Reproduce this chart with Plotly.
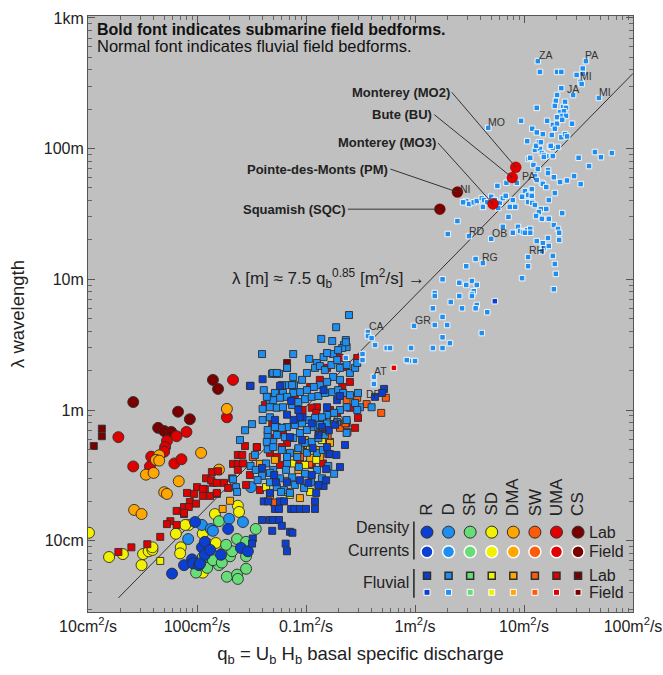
import math
import plotly.graph_objects as go

FONT = "Liberation Sans, Arial, Helvetica, sans-serif"

# ---------------- classes / colours ----------------
classes = ["R", "D", "SR", "SD", "DMA", "SW", "UMA", "CS"]
class_colors = ["#0b3fd1", "#1e8ef0", "#66dd77", "#f2f200", "#ffa600", "#ff5a0a", "#e00000", "#7a0000"]
COL = dict(zip(classes, class_colors))

# ---------------- density currents, lab (circles) ----------------
dcl_R_q = [0.0059, 0.0096, 0.0076, 0.0090, 0.0092, 0.0104, 0.0111, 0.0118, 0.0193, 0.0166, 0.0253, 0.0293, 0.0107, 0.0118, 0.0132]
dcl_R_lam = [0.056, 0.139, 0.065, 0.072, 0.067, 0.065, 0.089, 0.098, 0.123, 0.078, 0.088, 0.083, 0.067, 0.078, 0.085]
dcl_D_q = [0.0083, 0.0111, 0.0134, 0.0140, 0.0197, 0.0313, 0.0264]
dcl_D_lam = [0.103, 0.132, 0.123, 0.119, 0.147, 0.257, 0.139]
dcl_SR_q = [0.0159, 0.0116, 0.0124, 0.0098, 0.0143, 0.0159, 0.0188, 0.0201, 0.0233, 0.0346, 0.0282, 0.0210, 0.0140, 0.0282,
            0.0233, 0.0237, 0.0282, 0.0113, 0.0140, 0.0185, 0.0169]
dcl_SR_lam = [0.141, 0.074, 0.062, 0.057, 0.072, 0.065, 0.053, 0.076, 0.103, 0.123, 0.098, 0.083, 0.078, 0.076,
              0.055, 0.051, 0.061, 0.075, 0.071, 0.093, 0.068]
dcl_SD_q = [0.00102, 0.00156, 0.00209, 0.0032, 0.0036, 0.0039, 0.0039, 0.0031, 0.0064, 0.0071, 0.0070, 0.0084, 0.0078,
            0.0113, 0.0124, 0.0149, 0.0146, 0.0172, 0.0237, 0.0243, 0.0181, 0.0113]
dcl_SD_lam = [0.115, 0.075, 0.079, 0.079, 0.083, 0.085, 0.089, 0.065, 0.113, 0.089, 0.080, 0.132, 0.132,
              0.113, 0.095, 0.096, 0.16, 0.080, 0.185, 0.166, 0.082, 0.057]
dcl_DMA_q = [0.0188, 0.0045, 0.0042, 0.0045, 0.0034, 0.0040, 0.0109, 0.0159, 0.0068, 0.0050, 0.0053, 0.00265, 0.0031]
dcl_DMA_lam = [1.02, 0.45, 0.415, 0.41, 0.32, 0.33, 0.47, 0.35, 0.285, 0.235, 0.228, 0.172, 0.16]
dcl_UMA_q = [0.0214, 0.0188, 0.0019, 0.0065, 0.0080, 0.0053, 0.0051, 0.0050, 0.0038, 0.0026, 0.0037, 0.0062, 0.0072]
dcl_UMA_lam = [1.70, 0.88, 0.62, 0.63, 0.68, 0.58, 0.52, 0.48, 0.44, 0.37, 0.37, 0.39, 0.42]
dcl_CS_q = [0.0026, 0.0067, 0.0086, 0.0044, 0.0050, 0.0058, 0.0140, 0.0156]
dcl_CS_lam = [1.15, 0.97, 0.85, 0.73, 0.69, 0.68, 1.70, 1.45]

# ---------------- density currents, submarine field ----------------
sub_names = ["Monterey (MO2)", "Bute (BU)", "Monterey (MO3)", "Pointe-des-Monts (PM)", "Squamish (SQC)"]
sub_q = [8.4, 7.8, 5.2, 2.45, 1.69]
sub_lam = [72, 60, 37.7, 46.5, 34.4]
sub_class = ["UMA", "UMA", "UMA", "CS", "CS"]

# ---------------- fluvial, lab (squares) ----------------
fll_CS_q = [0.00134, 0.00134, 0.00113, 0.067, 0.067]
fll_CS_lam = [0.72, 0.63, 0.53, 2.29, 2.10]
fll_UMA_q = [0.0035, 0.0025, 0.0019, 0.0046, 0.0100, 0.0118, 0.0140, 0.0081, 0.0094, 0.0113, 0.0132, 0.0152,
             0.0086, 0.0076, 0.0084, 0.0065, 0.0076, 0.0057, 0.0053, 0.0065, 0.0276, 0.0353, 0.0237, 0.026,
             0.0214, 0.0237, 0.0137, 0.0156, 0.0121, 0.0135, 0.0152, 0.0177, 0.0113, 0.0152, 0.0098, 0.0076,
             0.205, 0.295, 0.156, 0.253, 0.215, 0.109, 0.126, 0.253, 0.30, 0.166, 0.193, 0.143, 0.113, 0.093,
             0.124, 0.049, 0.054, 0.0615, 0.050, 0.067, 0.085, 0.102, 0.060, 0.0355, 0.0467, 0.054, 0.236, 0.166,
             0.282, 0.0265, 0.0306, 0.0237, 0.0282, 0.0378, 0.0210, 0.0193, 0.0577, 0.088, 0.113, 0.143, 0.042,
             0.079, 0.134, 0.228]
fll_UMA_lam = [0.094, 0.089, 0.082, 0.107, 0.257, 0.249, 0.277, 0.232, 0.228, 0.22, 0.22, 0.228,
               0.198, 0.181, 0.181, 0.169, 0.16, 0.141, 0.134, 0.132, 0.53, 0.52, 0.453, 0.453,
               0.387, 0.387, 0.335, 0.34, 0.30, 0.29, 0.277, 0.277, 0.249, 0.232, 0.192, 0.163,
               2.50, 2.50, 2.10, 1.64, 1.50, 1.50, 1.05, 1.04, 0.87, 1.0, 0.95, 0.87, 1.04, 1.0,
               0.95, 0.80, 0.74, 0.68, 0.61, 0.56, 0.494, 0.494, 0.52, 0.52, 0.47, 0.437, 0.79, 0.57,
               0.73, 0.39, 0.318, 0.348, 0.267, 0.244, 0.30, 0.253, 0.38, 0.40, 0.38, 0.39, 1.09,
               1.30, 1.70, 2.13]
fll_SW_q = [0.0325, 0.051, 0.107, 0.236, 0.36, 0.54, 0.295, 0.205, 0.23, 0.158, 0.134, 0.24, 0.088, 0.49]
fll_SW_lam = [0.437, 0.196, 0.387, 1.19, 1.11, 1.24, 1.24, 0.73, 0.79, 0.62, 0.70, 0.68, 0.437, 0.95]
fll_DMA_q = [0.0172, 0.0201, 0.0669, 0.0378, 0.098, 0.104, 0.126, 0.083, 0.134, 0.166, 0.0519, 0.085, 0.109, 0.0467, 0.088]
fll_DMA_lam = [0.175, 0.202, 0.287, 0.387, 0.589, 0.54, 0.494, 0.453, 0.437, 0.56, 0.415, 0.348, 0.43, 0.224, 0.212]
fll_SD_q = [0.0046, 0.0669, 0.14, 0.109, 0.067, 0.075, 0.098, 0.124, 0.043, 0.071, 0.109]
fll_SD_lam = [0.070, 0.236, 0.589, 0.52, 0.415, 0.39, 0.38, 0.415, 0.257, 0.224, 0.236]
fll_R_q = [0.053, 0.0467, 0.041, 0.045, 0.0577, 0.0628, 0.0519, 0.0565, 0.073, 0.078, 0.088, 0.100, 0.121, 0.124,
           0.121, 0.145, 0.153, 0.16, 0.105, 0.0395, 0.0467, 0.050, 0.0565, 0.060, 0.049, 0.0713, 0.075, 0.0325,
           0.032, 0.065, 0.0669,
           0.031, 0.040, 0.073, 0.085, 0.093, 0.156, 0.193, 0.205, 0.43, 0.52, 0.50, 0.145, 0.088, 0.077, 0.113,
           0.14, 0.162, 0.185, 0.0713, 0.092, 0.115, 0.156, 0.166, 0.13, 0.052, 0.067, 0.0395, 0.051, 0.0669,
           0.088, 0.113, 0.13, 0.153, 0.205, 0.19, 0.228, 0.0577]
fll_R_lam = [0.28, 0.232, 0.20, 0.20, 0.20, 0.20, 0.175, 0.175, 0.175, 0.175, 0.175, 0.175, 0.175, 0.232,
             0.20, 0.262, 0.353, 0.46, 0.277, 0.144, 0.144, 0.144, 0.144, 0.13, 0.119, 0.117, 0.115, 0.104,
             0.095, 0.095, 0.083,
             1.53, 1.72, 1.17, 1.0, 0.88, 1.05, 1.19, 1.28, 1.26, 1.45, 1.35, 1.42, 0.88, 0.84, 0.79,
             0.74, 0.70, 0.77, 0.62, 0.589, 0.51, 0.52, 0.46, 0.644, 0.84, 0.92, 0.36, 0.318, 0.28,
             0.29, 0.318, 0.267, 0.29, 0.366, 0.453, 0.54, 1.53]
fll_D_q = [0.248, 0.189, 0.138, 0.174, 0.232, 0.223, 0.236, 0.215, 0.0395, 0.0763,
           0.107, 0.126, 0.145, 0.177, 0.0487, 0.053, 0.0565, 0.0696, 0.0776, 0.0519,
           0.0615, 0.0445, 0.040, 0.0467, 0.032, 0.0445, 0.050, 0.0445, 0.067, 0.156,
           0.197, 0.232, 0.050, 0.054, 0.067, 0.041, 0.0306, 0.060, 0.0746, 0.0763,
           0.092, 0.102, 0.121, 0.134, 0.149, 0.171, 0.193, 0.205, 0.236, 0.253,
           0.282, 0.295, 0.177, 0.205, 0.156, 0.134, 0.118, 0.102, 0.088, 0.0763,
           0.067, 0.0577, 0.050, 0.0437, 0.0467, 0.054, 0.0615, 0.0746, 0.085, 0.098,
           0.113, 0.13, 0.149, 0.174, 0.197, 0.219, 0.253, 0.30, 0.313, 0.282,
           0.40, 0.236, 0.205, 0.181, 0.156, 0.14, 0.121, 0.104, 0.092, 0.079,
           0.0669, 0.060, 0.0519, 0.0467, 0.040, 0.0445, 0.054, 0.0641, 0.0763, 0.088,
           0.102, 0.118, 0.134, 0.156, 0.193, 0.236, 0.295, 0.0437, 0.050, 0.060,
           0.0713, 0.085, 0.098, 0.113, 0.13, 0.149, 0.067, 0.083, 0.102, 0.126,
           0.143, 0.236, 0.031, 0.0346, 0.0395, 0.043, 0.050, 0.0577, 0.0655, 0.0746,
           0.086, 0.098, 0.111, 0.126, 0.14, 0.16, 0.181, 0.054, 0.0628, 0.079,
           0.096, 0.0467, 0.036, 0.0214, 0.0228, 0.0233, 0.0467, 0.059, 0.0713, 0.0276,
           0.0248, 0.034]
fll_D_lam = [5.33, 4.30, 3.50, 3.37, 3.43, 3.14, 3.03, 2.98, 2.68, 2.68,
             2.46, 2.29, 2.54, 2.68, 1.89, 1.89, 1.89, 1.55, 1.55, 1.35,
             1.35, 1.26, 1.02, 1.13, 0.78, 0.644, 0.57, 0.50, 0.39, 2.73,
             2.88, 3.30, 1.92, 1.92, 2.10, 1.42, 1.53, 1.55, 1.55, 1.79,
             1.70, 1.92, 2.10, 2.17, 2.02, 2.21, 2.41, 2.10, 2.21, 1.92,
             2.10, 2.29, 1.79, 1.70, 1.64, 1.55, 1.50, 1.42, 1.37, 1.35,
             1.26, 1.24, 1.19, 1.26, 1.05, 1.04, 1.05, 1.09, 1.15, 1.21,
             1.26, 1.28, 1.35, 1.37, 1.42, 1.35, 1.30, 1.35, 1.05, 1.13,
             1.05, 1.05, 1.0, 0.95, 0.916, 0.88, 0.87, 0.838, 0.79, 0.768,
             0.74, 0.73, 0.74, 0.88, 0.838, 0.703, 0.644, 0.62, 0.61, 0.667,
             0.703, 0.74, 0.768, 0.79, 0.81, 0.838, 1.0, 0.57, 0.52, 0.494,
             0.47, 0.51, 0.56, 0.57, 0.61, 0.644, 0.437, 0.437, 0.47, 0.47,
             0.494, 0.667, 0.373, 0.348, 0.313, 0.39, 0.348, 0.30, 0.348, 0.305,
             0.366, 0.325, 0.28, 0.348, 0.30, 0.373, 0.325, 0.257, 0.244, 0.267,
             0.253, 0.28, 0.291, 0.295, 0.257, 0.236, 0.33, 0.236, 0.232, 0.70,
             0.589, 0.453]

# ---------------- fluvial, field (small squares) ----------------
flf_D_q = [13.4, 14.0, 20.1, 22.0, 37.0, 34.6, 30.4, 34.6, 33.1, 33.8,
           22.0, 20.1, 28.2, 48.7, 19.6, 19.2, 23.8, 22.8, 24.3, 13.1,
           21.4, 23.3, 22.0, 24.3, 20.1, 16.3, 9.4, 18.4, 20.1, 22.4,
           27.6, 11.9, 19.2, 22.0, 23.8, 24.8, 13.1, 14.9, 18.0, 10.7,
           13.7, 12.6, 14.0, 14.6, 17.3, 18.4, 20.5, 18.4, 16.0, 15.2,
           11.0, 31.7, 39.5, 44.8, 50.8, 64.0, 16.6, 16.6, 12.6, 18.8,
           21.4, 24.8, 28.8, 33.1, 14.6, 14.9, 16.0, 11.8, 10.2, 10.9,
           11.8, 19.2, 9.6, 10.9, 11.9, 12.6, 16.9, 14.3, 13.7, 16.0,
           22.4, 12.9, 14.6, 16.9, 18.8, 20.5, 21.0, 21.0, 16.6, 13.1,
           14.9, 15.2, 16.9, 14.6, 18.4, 10.9, 10.9, 19.2, 19.6, 9.6,
           18.8, 7.2, 6.4, 8.8, 9.2, 9.8, 10.7, 11.4, 11.4, 10.2,
           7.9, 5.0, 3.6, 4.2, 2.95, 3.13, 2.45, 2.0, 4.7, 5.7,
           6.9, 8.6, 7.3, 2.95, 3.13, 3.46, 3.69, 4.1, 4.3, 4.6,
           5.0, 5.4, 6.0, 6.4, 6.8, 7.9, 8.3, 2.76, 4.2, 7.4,
           5.8, 15.2, 13.1, 12.2, 13.4, 11.4, 12.9, 14.3, 17.6, 1.79,
           2.55, 2.95, 3.33, 3.69, 3.46, 3.33, 3.33, 1.52, 1.52, 2.55,
           2.13, 3.69, 3.6, 2.7, 4.6, 1.46, 1.79, 0.98, 1.52, 1.97,
           4.1, 1.79, 2.09, 0.55, 0.59, 0.92, 1.46, 1.79, 0.88, 1.0,
           0.37, 0.37, 0.40, 0.43, 0.33, 0.33, 0.84, 0.42, 0.42, 0.232]
flf_D_lam = [467, 386, 386, 386, 467, 410, 366, 372, 324, 312,
             290, 257, 257, 244, 232, 212, 228, 208, 205, 205,
             190, 193, 178, 178, 174, 163, 163, 152, 155, 166,
             155, 142, 142, 122, 129, 124, 133, 129, 127, 114,
             112, 97.6, 99.5, 92.5, 103, 101, 103, 87.7, 87.7, 89.3,
             83.3, 85.0, 73.5, 94.1, 86.0, 92.5, 68.6, 65.0, 61.6, 60.4,
             55.5, 57.0, 61.6, 53.5, 54.7, 53.7, 50.8, 49.0, 47.3, 44.2,
             43.5, 45.7, 42.8, 39.0, 38.4, 37.0, 40.4, 34.5, 32.7, 34.5,
             32.1, 30.5, 29.0, 29.0, 26.0, 24.3, 22.7, 20.0, 20.7, 19.6,
             18.9, 17.3, 18.0, 16.4, 15.1, 14.8, 12.6, 13.1, 11.0, 10.2,
             8.4, 30.0, 25.2, 25.2, 23.4, 23.0, 23.8, 24.3, 22.7, 22.7,
             22.7, 20.4, 14.3, 13.3, 12.6, 21.4, 27.9, 22.2, 144, 51.8,
             54.7, 54.7, 59.5, 39.7, 37.7, 38.8, 39.7, 41.8, 40.4, 38.8,
             42.8, 40.4, 38.4, 41.8, 43.5, 40.4, 35.8, 38.8, 35.8, 35.8,
             35.1, 86.3, 57.5, 74.9, 69.8, 85.0, 105, 112, 105, 10.0,
             9.4, 9.05, 9.7, 9.05, 8.1, 7.7, 7.45, 7.85, 7.45, 7.45,
             6.7, 6.36, 6.0, 6.0, 5.6, 6.0, 5.15, 4.4, 4.47, 4.47,
             3.88, 3.6, 3.25, 2.98, 2.98, 2.98, 2.98, 2.98, 2.37, 2.37,
             3.95, 3.68, 3.55, 3.14, 2.68, 2.41, 2.41, 1.79, 1.58, 2.50]
flf_R_q = [5.4]
flf_R_lam = [6.8]
flf_UMA_q = [0.64]
flf_UMA_lam = [2.10]

# ---------------- fluvial field site labels ----------------
site_names = ["ZA", "PA", "MI", "JA", "MI", "MO", "PA", "NI", "RD", "OB", "RH", "RG", "GR", "CA", "AT", "DF", "PR", "VR"]
site_q = [15.6, 42, 37, 28, 55, 5.6, 10.9, 2.88, 3.7, 5.9, 12.9, 4.9, 1.18, 0.44, 0.48, 0.41, 0.19, 0.14]
site_lam = [520, 520, 360, 285, 270, 160, 62, 49, 23.4, 22.7, 16.8, 14.8, 4.88, 4.4, 1.99, 1.33, 0.84, 0.68]

# ---------------- fit ----------------
fit_a = 7.5
fit_b = 0.85
fit_q = [0.0019, 100]

# ---------------- axes ----------------
x_range_log = [-3, 2]
y_range_log = [-1.5455, 3.0145]
x_tickvals = [0.001, 0.01, 0.1, 1, 10, 100]
x_ticktext = ["10cm<sup>2</sup>/s", "100cm<sup>2</sup>/s", "0.1m<sup>2</sup>/s", "1m<sup>2</sup>/s",
              "10m<sup>2</sup>/s", "100m<sup>2</sup>/s"]
y_tickvals = [0.1, 1, 10, 100, 1000]
y_ticktext = ["10cm", "1m", "10m", "100m", "1km"]


def minor_ticks(lo, hi):
    vals = []
    for e in range(math.floor(lo), math.ceil(hi) + 1):
        for m in range(2, 10):
            v = m * 10.0 ** e
            if lo <= math.log10(v) <= hi:
                vals.append(v)
    return vals


fig = go.Figure()


def add(q, lam, cls, symbol, size, edge, width):
    fig.add_trace(go.Scatter(
        x=q, y=lam, mode="markers", hoverinfo="skip", showlegend=False,
        marker=dict(symbol=symbol, size=size, color=COL[cls], line=dict(color=edge, width=width))))


# fit line (behind markers)
fig.add_trace(go.Scatter(x=fit_q, y=[fit_a * q ** fit_b for q in fit_q], mode="lines",
                         line=dict(color="#303030", width=1), hoverinfo="skip", showlegend=False))

LAB_EDGE = "#2e2e2e"
dcl = {"R": (dcl_R_q, dcl_R_lam), "D": (dcl_D_q, dcl_D_lam), "SR": (dcl_SR_q, dcl_SR_lam),
       "SD": (dcl_SD_q, dcl_SD_lam), "DMA": (dcl_DMA_q, dcl_DMA_lam), "UMA": (dcl_UMA_q, dcl_UMA_lam),
       "CS": (dcl_CS_q, dcl_CS_lam)}
for c in ["CS", "UMA", "DMA", "SD", "SR", "D", "R"]:
    add(dcl[c][0], dcl[c][1], c, "circle", 11, LAB_EDGE, 0.9)

fll = {"UMA": (fll_UMA_q, fll_UMA_lam), "SW": (fll_SW_q, fll_SW_lam), "DMA": (fll_DMA_q, fll_DMA_lam),
       "SD": (fll_SD_q, fll_SD_lam), "CS": (fll_CS_q, fll_CS_lam), "D": (fll_D_q, fll_D_lam),
       "R": (fll_R_q, fll_R_lam)}
for c in ["UMA", "SW", "DMA", "SD", "CS", "D", "R"]:
    add(fll[c][0], fll[c][1], c, "square", 7, LAB_EDGE, 0.9)

FIELD_EDGE = "rgba(255,255,255,0.9)"
add(flf_D_q, flf_D_lam, "D", "square", 5.5, FIELD_EDGE, 1)
add(flf_R_q, flf_R_lam, "R", "square", 5.5, FIELD_EDGE, 1)
add(flf_UMA_q, flf_UMA_lam, "UMA", "square", 5.5, FIELD_EDGE, 1)

# submarine field circles
fig.add_trace(go.Scatter(
    x=sub_q, y=sub_lam, mode="markers", hoverinfo="skip", showlegend=False,
    marker=dict(symbol="circle", size=11, color=[COL[c] for c in sub_class],
                line=dict(color="rgba(90,0,0,0.5)", width=0.6))))

annotations = []
TXT = "#222222"

# submarine labels with leaders (pixel offsets of label tail)
sub_offsets = [(-64, -75), (-78, -63), (-55, -61), (-67, -23), (-92, 0)]
for n, q, l, (ax, ay) in zip(sub_names, sub_q, sub_lam, sub_offsets):
    annotations.append(dict(x=math.log10(q), y=math.log10(l), xref="x", yref="y", text="<b>" + n + "</b>",
                            showarrow=True, arrowhead=0, arrowwidth=1, arrowcolor="#333333", ax=ax, ay=ay,
                            xanchor="right", yanchor="middle", font=dict(family=FONT, size=13, color=TXT),
                            standoff=0))

for n, q, l in zip(site_names, site_q, site_lam):
    annotations.append(dict(x=math.log10(q), y=math.log10(l), xref="x", yref="y", text=n, showarrow=False,
                            font=dict(family=FONT, size=10.5, color="#333333")))

annotations.append(dict(x=math.log10(0.16), y=math.log10(10.1), xref="x", yref="y", showarrow=False,
                        text="λ [m] ≈ 7.5 q<sub>b</sub><sup>0.85</sup> [m<sup>2</sup>/s] →",
                        font=dict(family=FONT, size=17, color=TXT)))

annotations.append(dict(x=0.013, y=0.978, xref="paper", yref="paper", xanchor="left", yanchor="middle",
                        showarrow=False, text="<b>Bold font indicates submarine field bedforms.</b>",
                        font=dict(family=FONT, size=16, color="#111111")))
annotations.append(dict(x=0.013, y=0.949, xref="paper", yref="paper", xanchor="left", yanchor="middle",
                        showarrow=False, text="Normal font indicates fluvial field bedforms.",
                        font=dict(family=FONT, size=16.5, color="#111111")))

# ---------------- custom legend ----------------
leg_x0, leg_dx = 0.622, 0.0396
leg_x = [leg_x0 + leg_dx * i for i in range(len(classes))]
rows = [0.134, 0.101, 0.061, 0.033]

for i, c in enumerate(classes):
    annotations.append(dict(x=leg_x[i], y=0.158, xref="paper", yref="paper", text=c, textangle=-90,
                            xanchor="center", yanchor="bottom", showarrow=False,
                            font=dict(family=FONT, size=17, color=TXT)))
for t, yy in zip(["Lab", "Field", "Lab", "Field"], rows):
    annotations.append(dict(x=0.916, y=yy, xref="paper", yref="paper", text=t, xanchor="left",
                            yanchor="middle", showarrow=False, font=dict(family=FONT, size=16, color=TXT)))
for t, yy in zip(["Density", "Currents", "Fluvial"], [0.141, 0.104, 0.049]):
    annotations.append(dict(x=0.592, y=yy, xref="paper", yref="paper", text=t, xanchor="right",
                            yanchor="middle", showarrow=False, font=dict(family=FONT, size=16, color=TXT)))

leg_styles = [("circle", 12, LAB_EDGE, 1), ("circle", 12, "white", 1.5),
              ("square", 7, LAB_EDGE, 1.5), ("square", 6, "white", 1)]
for (sym, sz, edge, w), yy in zip(leg_styles, rows):
    fig.add_trace(go.Scatter(x=leg_x, y=[yy] * len(leg_x), xaxis="x2", yaxis="y2", mode="markers",
                             hoverinfo="skip", showlegend=False,
                             marker=dict(symbol=sym, size=sz, color=class_colors, line=dict(color=edge, width=w))))

# empty trace to host the minor-tick axes
fig.add_trace(go.Scatter(x=[], y=[], xaxis="x3", yaxis="y3", showlegend=False, hoverinfo="skip"))

shapes = [
    dict(type="line", xref="paper", yref="paper", x0=0.598, x1=0.598, y0=0.088, y1=0.152,
         line=dict(color="#222222", width=1.5)),
    dict(type="line", xref="paper", yref="paper", x0=0.598, x1=0.598, y0=0.024, y1=0.072,
         line=dict(color="#222222", width=1.5)),
]

axis_common = dict(type="log", showgrid=False, zeroline=False, showline=True, linecolor="#555555", linewidth=1,
                   mirror="ticks", ticks="inside", ticklen=7, tickcolor="#555555", tickwidth=1,
                   automargin=False, tickfont=dict(family=FONT, size=16, color=TXT))
minor_common = dict(type="log", showgrid=False, zeroline=False, showline=False, showticklabels=False,
                    mirror="ticks", ticks="inside", ticklen=4, tickcolor="#666666", tickwidth=1,
                    automargin=False)

fig.update_layout(
    width=663, height=675,
    margin=dict(l=88, r=30, t=16, b=63),
    paper_bgcolor="white", plot_bgcolor="#c0c0c0",
    font=dict(family=FONT, color=TXT),
    xaxis=dict(axis_common, range=x_range_log, tickvals=x_tickvals, ticktext=x_ticktext,
               title=dict(text="q<sub>b</sub> = U<sub>b</sub> H<sub>b</sub> basal specific discharge",
                          font=dict(family=FONT, size=18.5, color=TXT), standoff=12)),
    yaxis=dict(axis_common, range=y_range_log, tickvals=y_tickvals, ticktext=y_ticktext,
               title=dict(text="λ wavelength", font=dict(family=FONT, size=18.5, color=TXT), standoff=14)),
    xaxis2=dict(overlaying="x", range=[0, 1], visible=False, anchor="y2"),
    yaxis2=dict(overlaying="y", range=[0, 1], visible=False, anchor="x2"),
    xaxis3=dict(minor_common, overlaying="x", anchor="y3", range=x_range_log,
                tickvals=minor_ticks(*x_range_log)),
    yaxis3=dict(minor_common, overlaying="y", anchor="x3", range=y_range_log,
                tickvals=minor_ticks(*y_range_log)),
    annotations=annotations,
    shapes=shapes,
)

fig.write_html("out.html", config={"displayModeBar": False},
               post_script="document.body.style.margin='0';document.body.style.overflow='hidden';")
